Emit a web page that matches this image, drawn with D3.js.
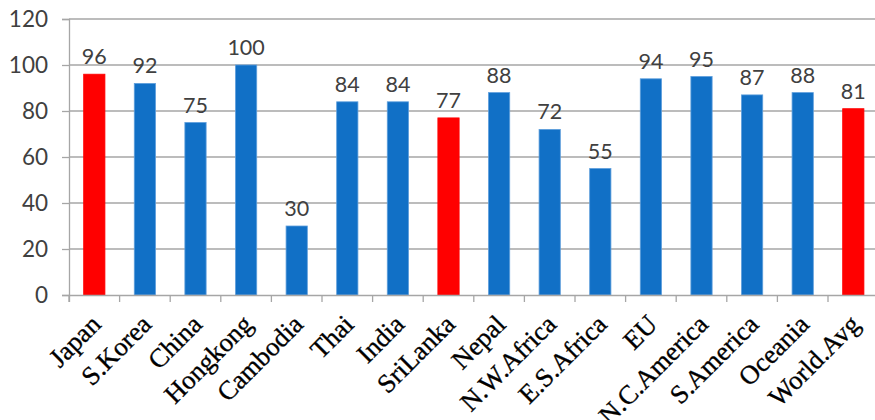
<!DOCTYPE html>
<html><head><meta charset="utf-8">
<script src="https://cdn.jsdelivr.net/npm/d3@7"></script>
<style>body{margin:0;background:#fff}svg{display:block}</style>
</head><body>
<svg id="c" width="875" height="420"></svg>
<script>
const categories = ["Japan","S.Korea","China","Hongkong","Cambodia","Thai","India","SriLanka","Nepal","N.W.Africa","E.S.Africa","EU","N.C.America","S.America","Oceania","World.Avg"];
const values = [96,92,75,100,30,84,84,77,88,72,55,94,95,87,88,81];
const highlighted = ["Japan","SriLanka","World.Avg"];
const yTicks = [0,20,40,60,80,100,120];

const svg = d3.select("#c");
const x = d3.scaleBand().domain(categories).range([69, 878.6]).paddingInner(0.58).paddingOuter(0.29);
const y = d3.scaleLinear().domain([0,120]).range([295,19]);
const band = d3.scaleBand().domain(categories).range([69, 878.6]);

// gridlines
svg.append("g").selectAll("line").data(yTicks.filter(d=>d>0)).join("line")
  .attr("x1",69).attr("x2",878).attr("y1",d=>y(d)).attr("y2",d=>y(d))
  .attr("stroke","#a6a6a6").attr("stroke-width",1.3);

// bars
svg.append("g").selectAll("rect").data(categories).join("rect")
  .attr("x",d=>x(d)).attr("width",x.bandwidth())
  .attr("y",(d,i)=>y(values[i])).attr("height",(d,i)=>y(0)-y(values[i]))
  .attr("fill",d=>highlighted.includes(d)?"#ff0000":"#1170c6")
  .attr("stroke",d=>highlighted.includes(d)?"#ff0000":"#5f9fdc").attr("stroke-width",0.8);

// y axis
const ya = d3.axisLeft(y).tickValues(yTicks).tickSize(7).tickPadding(14);
const yg = svg.append("g").attr("transform","translate(69,0)").call(ya);
yg.select(".domain").attr("stroke","#a6a6a6").attr("stroke-width",1.3);
yg.selectAll(".tick line").attr("stroke","#a6a6a6").attr("stroke-width",1.3);
yg.selectAll(".tick text").attr("font-family","Lato").attr("font-size",22.5).attr("fill","#404040");

// x axis
const xa = d3.axisBottom(band).tickSize(7).tickFormat("");
const xg = svg.append("g").attr("transform","translate(0,295)").call(xa);
xg.select(".domain").attr("stroke","#a6a6a6").attr("stroke-width",1.3);
xg.selectAll(".tick line").attr("stroke","#a6a6a6").attr("stroke-width",1.3)
  .attr("transform",`translate(${-band.bandwidth()/2},0)`);

// x labels
svg.append("g").selectAll("text").data(categories).join("text")
  .attr("transform",d=>`translate(${band(d)+band.bandwidth()/2+8},326) rotate(-45)`)
  .attr("text-anchor","end")
  .attr("font-family","Liberation Serif").attr("font-size",26.5).attr("fill","#000")
  .attr("stroke","#000").attr("stroke-width",0.35)
  .text(d=>d);

// value labels
svg.append("g").selectAll("text").data(categories).join("text")
  .attr("x",d=>x(d)+x.bandwidth()/2).attr("y",(d,i)=>y(values[i])-10)
  .attr("text-anchor","middle")
  .attr("font-family","Lato").attr("font-size",21.5).attr("fill","#404040")
  .text((d,i)=>values[i]);
</script>
</body></html>
